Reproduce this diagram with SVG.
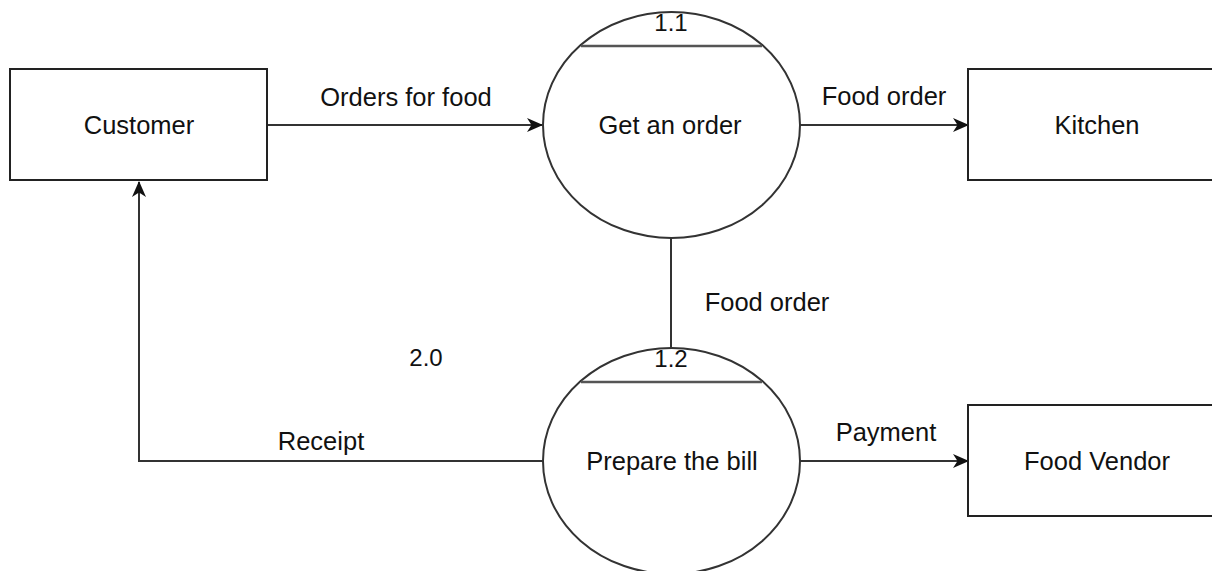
<svg xmlns="http://www.w3.org/2000/svg" width="1212" height="571" viewBox="0 0 1212 571">
  <style>
    .box { fill: #ffffff; stroke: #222222; stroke-width: 2; }
    .proc { fill: #ffffff; stroke: #333333; stroke-width: 2; }
    .divider { stroke: #555555; stroke-width: 2.5; }
    .flow { fill: none; stroke: #333333; stroke-width: 2; }
    .lbl { font-family: "Liberation Sans", Arial, sans-serif; font-size: 25.5px; fill: #111111; text-anchor: middle; }
    .num { font-family: "Liberation Sans", Arial, sans-serif; font-size: 24px; fill: #111111; text-anchor: middle; }
  </style>
  <defs>
    <marker id="arrow" viewBox="0 0 16 14" refX="15" refY="7" markerWidth="16" markerHeight="14" markerUnits="userSpaceOnUse" orient="auto">
      <path d="M0,0 L16,7 L0,14 L4.5,7 Z" fill="#111111"/>
    </marker>
  </defs>

  <rect width="1212" height="571" fill="#ffffff"/>

  <!-- data flows -->
  <g id="connectors">
    <line class="flow" x1="267" y1="125" x2="542" y2="125" marker-end="url(#arrow)"/>
    <text class="lbl" x="406" y="106">Orders for food</text>

    <line class="flow" x1="800" y1="125" x2="968" y2="125" marker-end="url(#arrow)"/>
    <text class="lbl" x="884" y="105">Food order</text>

    <line class="flow" x1="671" y1="238" x2="671" y2="348"/>
    <text class="lbl" x="767" y="311">Food order</text>

    <polyline class="flow" points="543,461 139,461 139,182" marker-end="url(#arrow)"/>
    <text class="lbl" x="321" y="450">Receipt</text>

    <line class="flow" x1="800" y1="461" x2="968" y2="461" marker-end="url(#arrow)"/>
    <text class="lbl" x="886" y="441">Payment</text>

    <text class="num" x="426" y="366">2.0</text>
  </g>

  <!-- external entities -->
  <g id="customer">
    <rect class="box" x="10" y="69" width="257" height="111"/>
    <text class="lbl" x="139" y="134">Customer</text>
  </g>

  <g id="kitchen">
    <rect class="box" x="968" y="69" width="257" height="111"/>
    <text class="lbl" x="1097" y="134">Kitchen</text>
  </g>

  <g id="food-vendor">
    <rect class="box" x="968" y="405" width="257" height="111"/>
    <text class="lbl" x="1097" y="470">Food Vendor</text>
  </g>

  <!-- processes -->
  <g id="get-order">
    <ellipse class="proc" cx="671.5" cy="125" rx="128.5" ry="113"/>
    <line class="divider" x1="581" y1="46" x2="762" y2="46"/>
    <text class="num" x="671" y="31">1.1</text>
    <text class="lbl" x="670" y="134">Get an order</text>
  </g>

  <g id="prepare-bill">
    <ellipse class="proc" cx="671.5" cy="461" rx="128.5" ry="113"/>
    <line class="divider" x1="581" y1="382" x2="762" y2="382"/>
    <text class="num" x="671" y="367">1.2</text>
    <text class="lbl" x="672" y="470">Prepare the bill</text>
  </g>
</svg>
